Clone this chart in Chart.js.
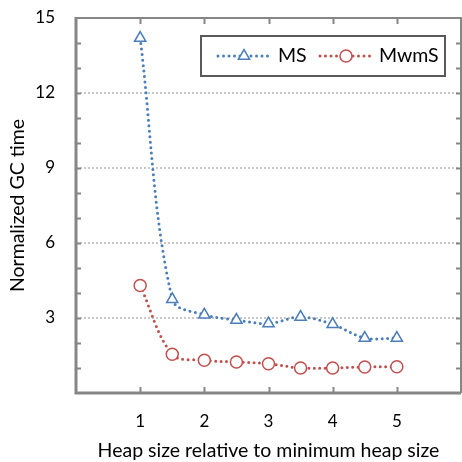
<!DOCTYPE html>
<html>
<head>
<meta charset="utf-8">
<script src="https://cdn.jsdelivr.net/npm/chart.js@4/dist/chart.umd.min.js"></script>
<style>
  html, body { margin: 0; padding: 0; background: #fff; overflow: hidden; }
  #wrap { width: 462px; height: 462px; }
</style>
</head>
<body>
<div id="wrap"><canvas id="gcChart"></canvas></div>
<script>
// values
const heapSizes = [1, 1.5, 2, 2.5, 3, 3.5, 4, 4.5, 5];
const msTimes = [14.2, 3.75, 3.13, 2.92, 2.78, 3.04, 2.75, 2.2, 2.2];
const mwmsTimes = [4.3, 1.55, 1.31, 1.24, 1.17, 1.0, 1.0, 1.04, 1.05];
const seriesNames = ['MS', 'MwmS'];
const yTickValues = [3, 6, 9, 12, 15];
const xTickValues = [1, 2, 3, 4, 5];

const blue = '#4a7ebb';
const red = '#c0504d';
const axisGray = '#868686';
const fontFamily = 'Lato, "Open Sans", sans-serif';

const toPoints = (xs, ys) => xs.map((x, i) => ({ x: x, y: ys[i] }));

// inward tick marks + frame
const frameTicks = {
    id: 'frameTicks',
    beforeDatasetsDraw(chart) {
        const { ctx, chartArea: a, scales } = chart;
        ctx.save();
        ctx.strokeStyle = axisGray;
        ctx.lineWidth = 2;
        for (let v = 1; v < 15; v++) {
            const y = Math.round(scales.y.getPixelForValue(v)) + 0.5;
            ctx.beginPath();
            ctx.moveTo(a.left, y); ctx.lineTo(a.left + 5, y);
            ctx.moveTo(a.right, y); ctx.lineTo(a.right - 5, y);
            ctx.stroke();
        }
        xTickValues.forEach(v => {
            const x = Math.round(scales.x.getPixelForValue(v)) + 0.5;
            ctx.beginPath();
            ctx.moveTo(x, a.top); ctx.lineTo(x, a.top + 6);
            ctx.moveTo(x, a.bottom); ctx.lineTo(x, a.bottom - 6);
            ctx.stroke();
        });
        // frame
        ctx.lineWidth = 2;
        ctx.beginPath();
        ctx.moveTo(a.left, a.top); ctx.lineTo(a.right, a.top);
        ctx.lineTo(a.right, a.bottom);
        ctx.stroke();
        ctx.lineWidth = 3;
        ctx.beginPath();
        ctx.moveTo(a.left, a.top - 1); ctx.lineTo(a.left, a.bottom);
        ctx.lineTo(a.right, a.bottom);
        ctx.stroke();
        ctx.restore();
    }
};

// boxed legend with dotted line samples
const boxLegend = {
    id: 'boxLegend',
    afterDraw(chart) {
        const { ctx } = chart;
        const box = { x: 201, y: 36, w: 244, h: 40 };
        const cy = box.y + box.h / 2;
        ctx.save();
        ctx.fillStyle = '#fff';
        ctx.fillRect(box.x, box.y, box.w, box.h);
        ctx.strokeStyle = '#595959';
        ctx.lineWidth = 2;
        ctx.strokeRect(box.x, box.y, box.w, box.h);

        const items = [
            { ds: chart.data.datasets[0], x0: 218, x1: 270, mx: 244, tx: 278 },
            { ds: chart.data.datasets[1], x0: 320, x1: 371, mx: 346, tx: 379 }
        ];
        items.forEach(it => {
            ctx.strokeStyle = it.ds.borderColor;
            ctx.lineWidth = 3;
            ctx.lineCap = 'round';
            ctx.setLineDash([0, 5.5]);
            ctx.beginPath();
            ctx.moveTo(it.x0, cy); ctx.lineTo(it.x1, cy);
            ctx.stroke();
            ctx.setLineDash([]);
            ctx.fillStyle = '#fff';
            ctx.strokeStyle = it.ds.pointBorderColor;
            ctx.lineWidth = it.ds.pointBorderWidth;
            Chart.helpers.drawPoint(ctx, {
                pointStyle: it.ds.pointStyle,
                radius: it.ds.pointRadius,
                rotation: 0,
                borderWidth: it.ds.pointBorderWidth
            }, it.mx, cy);
            ctx.fillStyle = '#000';
            ctx.font = '19.5px ' + fontFamily;
            ctx.textBaseline = 'middle';
            ctx.textAlign = 'left';
            ctx.fillText(it.ds.label, it.tx, cy);
        });
        ctx.restore();
    }
};

new Chart(document.getElementById('gcChart'), {
    type: 'line',
    data: {
        datasets: [{
            label: seriesNames[0],
            data: toPoints(heapSizes, msTimes),
            borderColor: blue,
            borderWidth: 3,
            borderDash: [0, 5.5],
            borderCapStyle: 'round',
            tension: 0.35,
            pointStyle: 'triangle',
            pointRadius: 6.5,
            pointBorderWidth: 1.5,
            pointBorderColor: blue,
            pointBackgroundColor: '#fff'
        }, {
            label: seriesNames[1],
            data: toPoints(heapSizes, mwmsTimes),
            borderColor: red,
            borderWidth: 3,
            borderDash: [0, 5.5],
            borderCapStyle: 'round',
            tension: 0.35,
            pointStyle: 'circle',
            pointRadius: 6,
            pointBorderWidth: 1.5,
            pointBorderColor: red,
            pointBackgroundColor: '#fff'
        }]
    },
    options: {
        responsive: true,
        maintainAspectRatio: false,
        animation: false,
        layout: { autoPadding: false, padding: { top: 18, right: 1, left: 0, bottom: 0 } },
        plugins: {
            legend: { display: false },
            tooltip: { enabled: false }
        },
        scales: {
            x: {
                type: 'linear',
                min: 0,
                max: 6,
                afterBuildTicks: scale => { scale.ticks = xTickValues.map(v => ({ value: v })); },
                afterFit: scale => { scale.height = 69; },
                grid: {
                    display: true,
                    drawOnChartArea: false,
                    drawTicks: true,
                    tickLength: 18,
                    tickColor: 'rgba(0,0,0,0)'
                },
                border: { display: false },
                ticks: {
                    padding: 0,
                    color: '#000',
                    font: { family: fontFamily, size: 17 }
                },
                title: {
                    display: true,
                    text: 'Heap size relative to minimum heap size',
                    color: '#000',
                    font: { family: fontFamily, size: 19.5 },
                    padding: { top: 0, bottom: 0 }
                }
            },
            y: {
                min: 0,
                max: 15,
                afterBuildTicks: scale => { scale.ticks = yTickValues.map(v => ({ value: v })); },
                afterFit: scale => { scale.width = 76; },
                grid: {
                    drawTicks: true,
                    tickLength: 21,
                    tickColor: 'rgba(0,0,0,0)',
                    color: ctx => (ctx.tick && ctx.tick.value < 15) ? '#c8c8c8' : 'rgba(0,0,0,0)',
                    lineWidth: 2
                },
                border: { display: false, dash: [2, 2] },
                ticks: {
                    padding: 0,
                    color: '#000',
                    font: { family: fontFamily, size: 17 }
                },
                title: {
                    display: true,
                    text: 'Normalized GC time',
                    color: '#000',
                    font: { family: fontFamily, size: 19.5 },
                    padding: { top: 6, bottom: 0 }
                }
            }
        }
    },
    plugins: [frameTicks, boxLegend]
});
</script>
</body>
</html>
